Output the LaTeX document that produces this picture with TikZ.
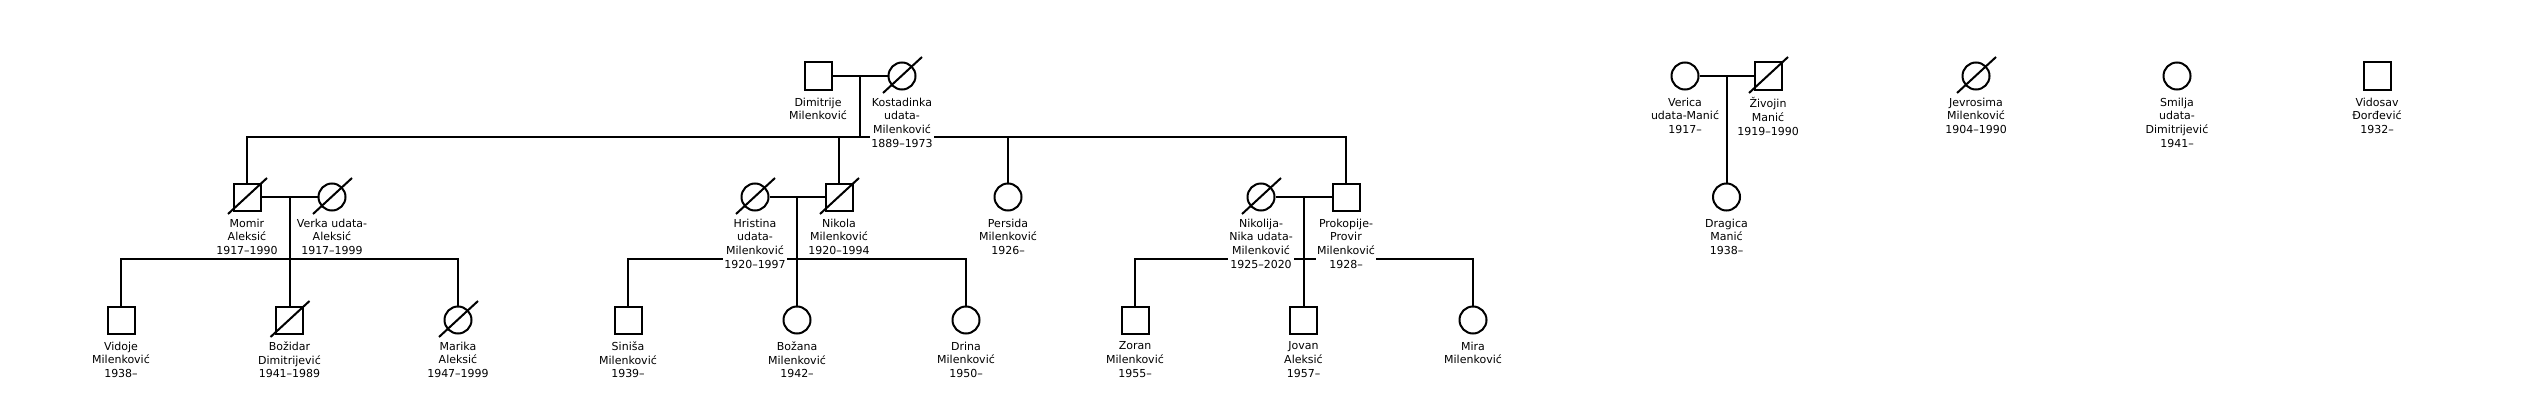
\documentclass[tikz,border=0pt]{standalone}
\usepackage{fontspec}
\setmainfont{DejaVu Sans}
\usetikzlibrary{calc,positioning}
\tikzset{
  person/.style={draw, line width=2pt, minimum size=27pt, inner sep=0pt, fill=white},
  male/.style={person, rectangle},
  female/.style={person, circle},
  lbl/.style={font=\fontsize{11}{13.7}\selectfont, align=center, fill=white, inner sep=1pt, anchor=north},
  link/.style={line width=2pt},
  slash/.style={line width=2pt}
}
\newcommand{\lab}[2]{\node[lbl, below=6pt of #1] (#1-l) {#2};}
\begin{document}
\begin{tikzpicture}[x=1pt, y=-1pt]
\useasboundingbox (0,0) rectangle (2523,396);
% row 1
\node[male] (dim) at (818,76) {};
\node[female] (kos) at (902,76) {};
\node[female] (ver) at (1685,76) {};
\node[male] (ziv) at (1768,76) {};
\node[female] (jev) at (1976,76) {};
\node[female] (smi) at (2177,76) {};
\node[male] (vid) at (2377,76) {};
% row 2
\node[male] (mom) at (247,197) {};
\node[female] (verka) at (332,197) {};
\node[female] (hri) at (755,197) {};
\node[male] (nik) at (839,197) {};
\node[female] (per) at (1008,197) {};
\node[female] (nja) at (1261,197) {};
\node[male] (pro) at (1346,197) {};
\coordinate (m4) at ($(ver.east)!0.5!(ziv.west)$);
\node[female] (dra) at (m4 |- 0,197) {};
% row 3
\coordinate (m1) at ($(mom.east)!0.5!(verka.west)$);
\coordinate (m2) at ($(hri.east)!0.5!(nik.west)$);
\coordinate (m3) at ($(nja.east)!0.5!(pro.west)$);
\node[male] (vdj) at (121,320) {};
\node[male] (boz) at (m1 |- 0,320) {};
\node[female] (mar) at (458,320) {};
\node[male] (sin) at (628,320) {};
\node[female] (bzn) at (m2 |- 0,320) {};
\node[female] (dri) at (966,320) {};
\node[male] (zor) at (1135,320) {};
\node[male] (jov) at (m3 |- 0,320) {};
\node[female] (mir) at (1473,320) {};
% deceased slashes
\foreach \n in {kos,ziv,jev,mom,verka,hri,nik,nja,boz,mar}
  \draw[slash] ($(\n)+(-19,17)$) -- ($(\n)+(20,-19)$);
% connectors
\coordinate (m0) at ($(dim.east)!0.5!(kos.west)$);
\coordinate (s0) at ($(m0)+(0,61)$);
\draw[link] (dim.east) -- (kos.west);
\draw[link] (m0) -- (s0);
\draw[link] (mom.north) |- (s0) -| (pro.north);
\draw[link] (nik.north) -- (nik.north |- s0);
\draw[link] (per.north) -- (per.north |- s0);
\draw[link] (ver.east) -- (ziv.west);
\draw[link] (m4) -- (dra.north);
\draw[link] (mom.east) -- (verka.west);
\draw[link] (hri.east) -- (nik.west);
\draw[link] (nja.east) -- (pro.west);
\draw[link] (m1) -- (boz.north);
\draw[link] (m2) -- (bzn.north);
\draw[link] (m3) -- (jov.north);
\coordinate (c1) at ($(m1)+(0,62)$);
\coordinate (c2) at ($(m2)+(0,62)$);
\coordinate (c3) at ($(m3)+(0,62)$);
\draw[link] (vdj.north) |- (c1) -| (mar.north);
\draw[link] (sin.north) |- (c2) -| (dri.north);
\draw[link] (zor.north) |- (c3) -| (mir.north);
% labels
\lab{dim}{Dimitrije\\Milenković}
\lab{kos}{Kostadinka\\udata-\\Milenković\\1889–1973}
\lab{ver}{Verica\\udata-Manić\\1917–}
\lab{ziv}{Živojin\\Manić\\1919–1990}
\lab{jev}{Jevrosima\\Milenković\\1904–1990}
\lab{smi}{Smilja\\udata-\\Dimitrijević\\1941–}
\lab{vid}{Vidosav\\Đorđević\\1932–}
\lab{mom}{Momir\\Aleksić\\1917–1990}
\lab{verka}{Verka udata-\\Aleksić\\1917–1999}
\lab{hri}{Hristina\\udata-\\Milenković\\1920–1997}
\lab{nik}{Nikola\\Milenković\\1920–1994}
\lab{per}{Persida\\Milenković\\1926–}
\lab{nja}{Nikolija-\\Nika udata-\\Milenković\\1925–2020}
\lab{pro}{Prokopije-\\Provir\\Milenković\\1928–}
\lab{dra}{Dragica\\Manić\\1938–}
\lab{vdj}{Vidoje\\Milenković\\1938–}
\lab{boz}{Božidar\\Dimitrijević\\1941–1989}
\lab{mar}{Marika\\Aleksić\\1947–1999}
\lab{sin}{Siniša\\Milenković\\1939–}
\lab{bzn}{Božana\\Milenković\\1942–}
\lab{dri}{Drina\\Milenković\\1950–}
\lab{zor}{Zoran\\Milenković\\1955–}
\lab{jov}{Jovan\\Aleksić\\1957–}
\lab{mir}{Mira\\Milenković}
\end{tikzpicture}
\end{document}
